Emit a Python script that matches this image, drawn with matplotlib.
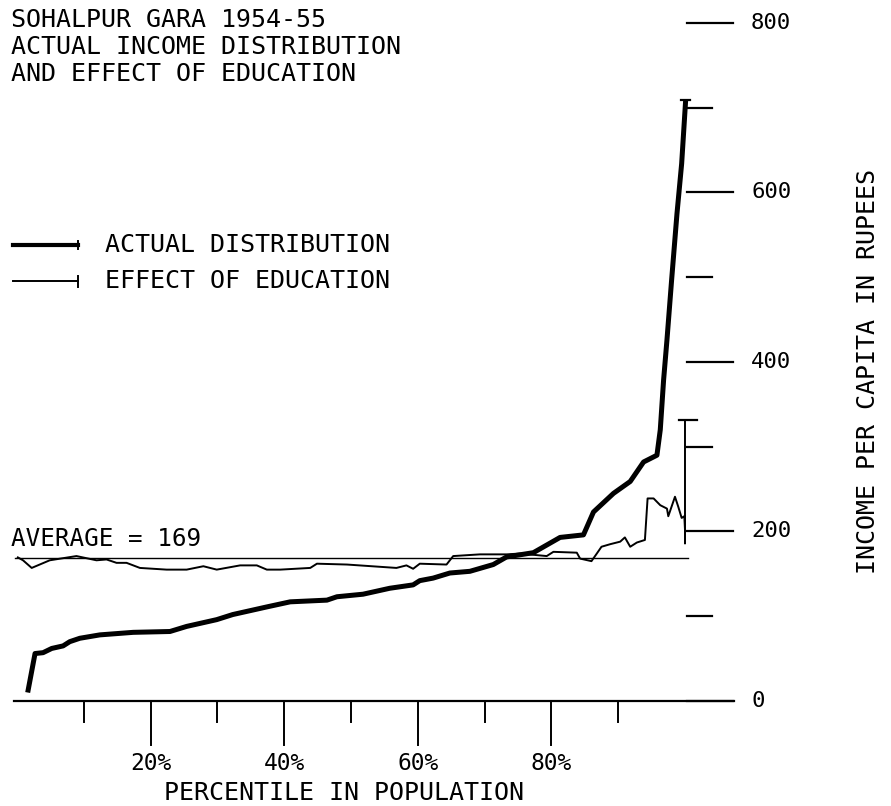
import matplotlib
matplotlib.use("Agg")
import matplotlib.pyplot as plt

# Income per capita (rupees) by population percentile, Sohalpur Gara 1954-55
actual_pct = [1.6, 2.7, 3.9, 5.2, 6.9, 7.9, 9.4, 12.4, 17.4, 22.9, 25.4, 29.9, 32.3,
              37.4, 40.9, 46.4, 47.9, 51.8, 55.8, 59.3, 60.3, 62.3, 64.8, 67.8, 71.3,
              73.3, 77.3, 79.3, 81.3, 84.8, 86.3, 89.3, 91.8, 93.8, 95.8, 96.3, 96.8,
              97.3, 98.0, 98.8, 99.5, 100.1]
actual_income = [10, 56, 57, 62, 65, 70, 74, 78, 81, 82, 88, 96, 102,
                 111, 117, 119, 123, 126, 133, 137, 142, 145, 151, 153, 161,
                 170, 175, 184, 193, 196, 223, 245, 259, 282, 290, 320, 379,
                 426, 497, 575, 634, 709]

education_pct = [0.0, 0.9, 2.2, 4.9, 8.9, 11.9, 13.4, 14.9, 16.4, 18.4, 22.4, 25.4,
                 27.9, 29.9, 33.4, 35.9, 37.4, 39.4, 43.9, 44.9, 49.4, 56.8, 58.3,
                 59.3, 60.3, 64.3, 65.3, 69.3, 73.3, 75.3, 79.3, 80.3, 83.8, 84.3,
                 86.0, 86.8, 87.5, 88.8, 90.3, 91.0, 91.8, 92.8, 94.0, 94.4, 95.3,
                 96.3, 97.3, 97.5, 98.5, 99.0, 99.5, 99.9, 100.0, 100.0, 100.0]
education_income = [170, 166, 157, 166, 171, 166, 167, 163, 163, 157, 155, 155,
                    159, 155, 160, 160, 155, 155, 157, 162, 161, 157, 160,
                    156, 162, 161, 171, 173, 173, 174, 171, 176, 175, 168,
                    165, 174, 182, 185, 188, 193, 182, 187, 190, 239, 239,
                    231, 227, 218, 241, 229, 216, 218, 202, 186, 331]

average_income = 169

y_major = [0, 200, 400, 600, 800]
y_minor = [100, 300, 500, 700]
x_major = [20, 40, 60, 80]
x_minor = [10, 30, 50, 70, 90]
x_major_labels = ["20%", "40%", "60%", "80%"]

FONT = "DejaVu Sans Mono"
INK = "black"

fig = plt.figure(figsize=(8.91, 8.06), dpi=100)
ax = fig.add_axes([0, 0, 1, 1])
ax.set_xlim(-2.545, 130.84)
ax.set_ylim(-123.9, 827.1)
ax.axis("off")

# data curves
ax.plot(actual_pct, actual_income, color=INK, lw=3.6,
        solid_joinstyle="round", solid_capstyle="butt")
ax.plot(education_pct, education_income, color=INK, lw=1.4,
        solid_joinstyle="round", solid_capstyle="butt")

# end caps on the curves
ax.plot([actual_pct[-1] - 0.7, actual_pct[-1] + 0.6],
        [actual_income[-1]] * 2, color=INK, lw=1.6)
ax.plot([education_pct[-1] - 0.9, education_pct[-1] + 1.8],
        [education_income[-1]] * 2, color=INK, lw=1.6)

# average line
ax.plot([-0.3, 100.5], [average_income] * 2, color=INK, lw=1.0)
ax.text(-0.9, 191, f"AVERAGE = {average_income}", fontsize=17.5, family=FONT,
        ha="left", va="center", color=INK)

# baseline and percentile ticks
ax.plot([-0.4, 107.3], [0, 0], color=INK, lw=1.6)
for p in x_major:
    ax.plot([p, p], [0, -51.9], color=INK, lw=1.4)
for p in x_minor:
    ax.plot([p, p], [0, -24.8], color=INK, lw=1.4)
for p, lab in zip(x_major, x_major_labels):
    ax.text(p, -74, lab, fontsize=16.5, family=FONT, ha="center", va="center", color=INK)
ax.text(49, -108.6, "PERCENTILE IN POPULATION", fontsize=18, family=FONT,
        ha="center", va="center", color=INK)

# income scale on the right
for v in y_major:
    ax.plot([100.3, 107.2], [v, v], color=INK, lw=1.6)
    ax.text(109.9, v, f"{v}", fontsize=16, family=FONT, ha="left", va="center", color=INK)
for v in y_minor:
    ax.plot([100.3, 104.0], [v, v], color=INK, lw=1.6)
ax.text(127.4, 389, "INCOME PER CAPITA IN RUPEES", fontsize=18, family=FONT,
        rotation=90, ha="center", va="center", color=INK)

# title
for i, line in enumerate(["SOHALPUR GARA 1954-55",
                          "ACTUAL INCOME DISTRIBUTION",
                          "AND EFFECT OF EDUCATION"]):
    ax.text(-0.9, 803.5 - 31.8 * i, line, fontsize=18, family=FONT,
            ha="left", va="center", color=INK)

# key
ax.plot([-0.6, 9.1], [538, 538], color=INK, lw=3.0)
ax.plot([9.1, 9.1], [533, 543], color=INK, lw=1.4)
ax.text(13.2, 538, "ACTUAL DISTRIBUTION", fontsize=18, family=FONT,
        ha="left", va="center", color=INK)
ax.plot([-0.6, 9.1], [495, 495], color=INK, lw=1.4)
ax.plot([9.1, 9.1], [489, 501], color=INK, lw=1.4)
ax.text(13.2, 495, "EFFECT OF EDUCATION", fontsize=18, family=FONT,
        ha="left", va="center", color=INK)

fig.savefig("out.png", dpi=100, facecolor="white")
